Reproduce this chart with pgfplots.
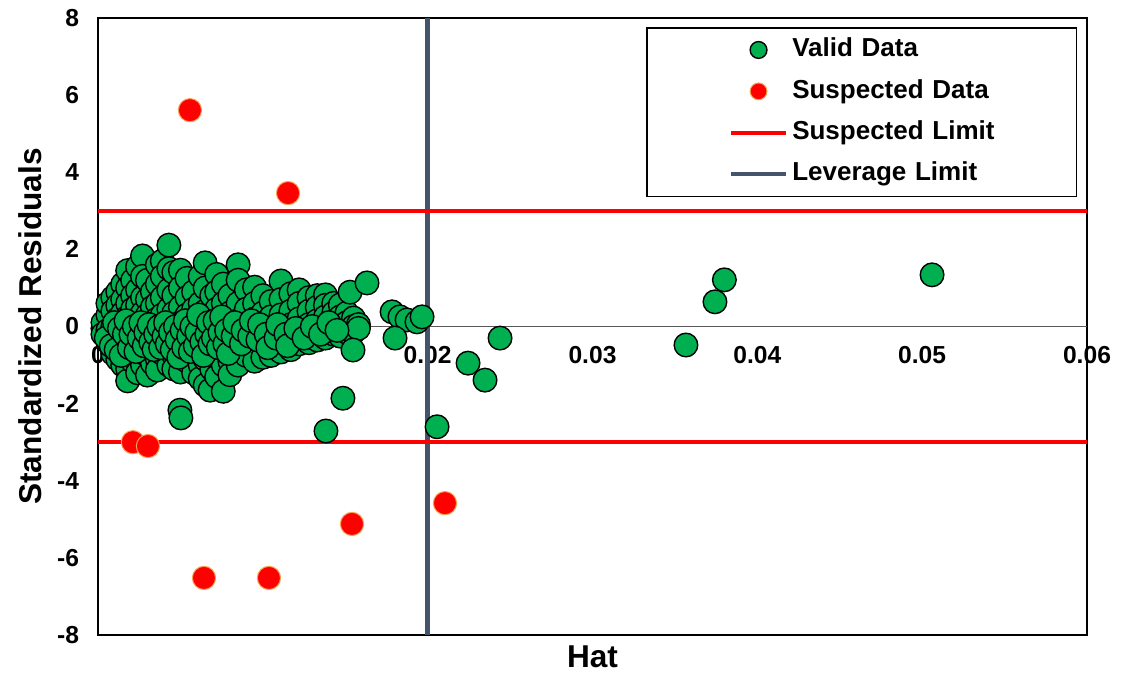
\documentclass[border=0pt]{standalone}
\usepackage{fontspec}
\setmainfont{Liberation Sans}
\usepackage{pgfplots}
\pgfplotsset{compat=1.18}
\usepackage{pgfplotstable}
\definecolor{vgreen}{HTML}{00B050}
\definecolor{sred}{HTML}{FF0000}
\definecolor{sborder}{HTML}{F8A050}
\definecolor{levcol}{HTML}{44546A}
\definecolor{zerocol}{HTML}{595959}

\pgfplotsset{
  legmark/.style={legend image code/.code={
    \path (-41pt,0pt) (27.5pt,0pt);
    \draw[##1, mark size=4.2pt] plot coordinates {(13.75pt,0pt)};}},
  legline/.style={legend image code/.code={
    \path (-41pt,0pt) (27.5pt,0pt);
    \draw[##1] (0pt,0pt) -- (27.5pt,0pt);}},
}

\pgfplotstableread{
x y
0.0003 -0.05
0.0003 0.10
0.0003 -0.20
0.0006 0.30
0.0006 -0.10
0.0006 -0.40
0.0006 0.60
0.0009 0.75
0.0009 0.40
0.0009 0.00
0.0009 -0.35
0.0009 -0.70
0.0009 -0.20
0.0012 0.90
0.0012 0.55
0.0012 0.20
0.0012 -0.15
0.0012 -0.50
0.0012 -0.85
0.0012 -0.30
0.0015 1.10
0.0015 0.70
0.0015 0.35
0.0015 0.00
0.0015 -0.30
0.0015 -0.60
0.0015 -1.00
0.0015 -0.45
0.0018 1.45
0.0018 1.00
0.0018 0.60
0.0018 0.25
0.0018 -0.10
0.0018 -0.40
0.0018 -0.75
0.0018 -1.10
0.0018 -1.41
0.0021 1.20
0.0021 0.80
0.0021 0.45
0.0021 0.10
0.0021 -0.25
0.0021 -0.55
0.0021 -0.90
0.0021 -0.35
0.0024 1.55
0.0024 0.95
0.0024 0.55
0.0024 0.20
0.0024 -0.15
0.0024 -0.45
0.0024 -0.80
0.0024 -1.20
0.0027 1.83
0.0027 1.30
0.0027 0.75
0.0027 0.35
0.0027 0.00
0.0027 -0.30
0.0027 -0.60
0.0027 -1.00
0.0027 -0.40
0.0030 1.20
0.0030 0.70
0.0030 0.30
0.0030 -0.10
0.0030 -0.45
0.0030 -0.75
0.0030 -1.26
0.0030 -0.25
0.0033 0.90
0.0033 0.50
0.0033 0.10
0.0033 -0.25
0.0033 -0.55
0.0033 -0.95
0.0033 -0.35
0.0036 1.60
0.0036 1.10
0.0036 0.60
0.0036 0.20
0.0036 -0.15
0.0036 -0.50
0.0036 -0.85
0.0036 -1.13
0.0039 1.70
0.0039 1.30
0.0039 0.75
0.0039 0.30
0.0039 -0.10
0.0039 -0.40
0.0039 -0.70
0.0039 -0.30
0.0043 2.11
0.0043 1.50
0.0043 0.95
0.0043 0.45
0.0043 0.05
0.0043 -0.30
0.0043 -0.60
0.0043 -1.00
0.0046 1.40
0.0046 0.80
0.0046 0.35
0.0046 -0.05
0.0046 -0.40
0.0046 -0.75
0.0046 -1.10
0.0046 -0.25
0.0050 1.46
0.0050 1.00
0.0050 0.50
0.0050 0.10
0.0050 -0.30
0.0050 -0.65
0.0050 -1.18
0.0050 -0.50
0.0054 1.25
0.0054 0.75
0.0054 0.30
0.0054 -0.10
0.0054 -0.45
0.0054 -0.90
0.0054 -0.30
0.0058 0.90
0.0058 0.45
0.0058 0.05
0.0058 -0.35
0.0058 -0.80
0.0058 -1.20
0.0062 1.30
0.0062 0.60
0.0062 0.20
0.0062 -0.20
0.0062 -0.60
0.0062 -1.00
0.0062 -1.35
0.0065 1.65
0.0065 1.00
0.0065 0.40
0.0065 -0.05
0.0065 -0.45
0.0065 -0.85
0.0065 -1.52
0.0069 0.80
0.0069 0.30
0.0069 -0.15
0.0069 -0.55
0.0069 -1.10
0.0068 -1.65
0.0072 1.35
0.0072 0.90
0.0072 0.45
0.0072 0.00
0.0072 -0.40
0.0072 -0.80
0.0072 -1.30
0.0076 1.10
0.0076 0.60
0.0076 0.10
0.0076 -0.30
0.0076 -0.70
0.0076 -1.00
0.0076 -1.68
0.0080 0.80
0.0080 0.35
0.0080 -0.10
0.0080 -0.50
0.0080 -0.90
0.0080 -1.25
0.0085 1.60
0.0085 1.20
0.0085 0.60
0.0085 0.15
0.0085 -0.30
0.0085 -0.65
0.0085 -1.00
0.0090 0.95
0.0090 0.45
0.0090 0.00
0.0090 -0.40
0.0090 -0.75
0.0095 1.02
0.0095 0.60
0.0095 0.20
0.0095 -0.20
0.0095 -0.55
0.0095 -0.90
0.0100 0.80
0.0100 0.35
0.0100 -0.05
0.0100 -0.40
0.0100 -0.80
0.0105 0.65
0.0105 0.25
0.0105 -0.15
0.0105 -0.50
0.0105 -0.75
0.0111 1.18
0.0111 0.70
0.0111 0.30
0.0111 -0.10
0.0111 -0.40
0.0111 -0.66
0.0117 0.85
0.0117 0.40
0.0117 0.05
0.0117 -0.30
0.0117 -0.60
0.0122 0.95
0.0122 0.60
0.0122 0.20
0.0122 -0.15
0.0122 -0.45
0.0128 0.75
0.0128 0.40
0.0128 0.05
0.0128 -0.25
0.0128 -0.42
0.0133 0.80
0.0133 0.50
0.0133 0.15
0.0133 -0.15
0.0133 -0.35
0.0138 0.82
0.0138 0.55
0.0138 0.25
0.0138 -0.05
0.0138 -0.30
0.0143 0.60
0.0143 0.35
0.0143 0.05
0.0143 -0.20
0.0147 0.56
0.0147 0.25
0.0147 0.00
0.0147 -0.25
0.0151 0.35
0.0151 0.10
0.0151 -0.15
0.0155 0.22
0.0155 0.00
0.0155 -0.15
0.0158 0.05
0.0158 -0.05
0.0005 -0.30
0.0008 -0.50
0.0010 0.10
0.0011 -0.60
0.0013 -0.05
0.0014 -0.75
0.0016 -0.20
0.0017 0.15
0.0019 -0.55
0.0020 -0.20
0.0022 0.00
0.0023 -0.65
0.0025 -0.30
0.0026 0.10
0.0028 -0.50
0.0029 -0.15
0.0031 0.05
0.0032 -0.40
0.0034 -0.60
0.0035 -0.20
0.0037 0.00
0.0038 -0.55
0.0040 -0.25
0.0041 0.10
0.0042 -0.45
0.0044 -0.15
0.0045 -0.60
0.0047 0.00
0.0048 -0.35
0.0049 -0.80
0.0051 -0.10
0.0052 -0.55
0.0053 0.15
0.0055 -0.25
0.0056 -0.65
0.0057 0.00
0.0059 -0.50
0.0060 -0.15
0.0061 0.30
0.0063 -0.40
0.0064 -0.75
0.0066 -0.20
0.0067 0.10
0.0068 -0.45
0.0070 -0.30
0.0071 0.15
0.0073 -0.55
0.0074 -0.15
0.0075 0.25
0.0077 -0.45
0.0078 -0.10
0.0079 -0.70
0.0082 -0.25
0.0083 0.10
0.0087 -0.45
0.0088 -0.10
0.0092 -0.25
0.0093 0.15
0.0097 -0.35
0.0098 0.05
0.0102 -0.20
0.0103 -0.55
0.0108 -0.30
0.0109 0.05
0.0114 -0.20
0.0115 -0.50
0.0120 -0.05
0.0125 -0.30
0.0130 0.00
0.0135 -0.20
0.0140 0.10
0.0145 -0.10
0.01529 0.89
0.01632 1.13
0.01547 -0.61
0.01486 -1.86
0.01383 -2.71
0.00497 -2.17
0.00503 -2.37
0.01784 0.38
0.01832 0.25
0.01875 0.17
0.01935 0.12
0.01802 -0.30
0.01966 0.25
0.02057 -2.60
0.02245 -0.95
0.02348 -1.39
0.02439 -0.30
0.03567 -0.48
0.03743 0.64
0.03800 1.21
0.05060 1.34
}\validdata

\pgfplotstableread{
x y
0.00558 5.61
0.01153 3.46
0.00212 -3.00
0.00303 -3.10
0.00643 -6.52
0.01037 -6.52
0.01541 -5.12
0.02105 -4.58
}\suspdata

\begin{document}
\begin{tikzpicture}
\useasboundingbox (-49pt,-20pt) rectangle (512.5pt,317.5pt);
\begin{axis}[
  scale only axis,
  width=494.5pt, height=308.5pt,
  at={(0pt,0pt)}, anchor=south west,
  xmin=0, xmax=0.06, ymin=-8, ymax=8,
  clip=false,
  axis line style={black, line width=1pt},
  xtick={0,0.01,0.02,0.03,0.04,0.05,0.06},
  xticklabels={0,0.01,0.02,0.03,0.04,0.05,0.06},
  ytick={-8,-6,-4,-2,0,2,4,6,8},
  yticklabels={-8,-6,-4,-2,0,2,4,6,8},
  scaled x ticks=false,
  major tick length=0pt,
  tick label style={font=\fontsize{12.3}{14}\selectfont\bfseries},
  xticklabel style={anchor=center, yshift=140pt},
  yticklabel style={anchor=east, xshift=-6pt},
  xlabel={Hat},
  ylabel={Standardized Residuals},
  label style={font=\fontsize{15.8}{18}\selectfont\bfseries},
  xlabel style={at={(axis description cs:0.5,-0.0357)}, anchor=center},
  ylabel style={at={(axis description cs:-0.069,0.5)}, anchor=center},
  legend cell align=left,
  legend style={
    at={(axis description cs:0.9899,0.9854)}, anchor=north east,
    draw=black, line width=0.75pt,
    font=\fontsize{13}{15}\selectfont\bfseries,
    inner xsep=0pt, inner ysep=3pt,
    row sep=4.5pt,
    nodes={text height=9.5pt, text depth=2.7pt, inner ysep=2pt},
    /tikz/every even column/.append style={text width=140pt, xshift=-1.5pt},
  },
]
% zero line and limits (behind the points)
\addplot[zerocol, line width=0.6pt, forget plot] coordinates {(0,0) (0.06,0)};
\addplot[levcol, line width=2.2pt, forget plot] coordinates {(0.02,-8) (0.02,8)};
\addplot[sred, line width=2pt, forget plot] coordinates {(0,3) (0.06,3)};
\addplot[sred, line width=2pt, forget plot] coordinates {(0,-3) (0.06,-3)};

\addplot[only marks, mark=*, mark size=5.9pt,
  mark options={fill=vgreen, draw=black, line width=0.7pt},
  legmark] table[x=x,y=y] {\validdata};
\addlegendentry{Valid Data}

\addplot[only marks, mark=*, mark size=5.8pt,
  mark options={fill=sred, draw=sborder, line width=0.5pt},
  legmark] table[x=x,y=y] {\suspdata};
\addlegendentry{Suspected Data}

\addlegendimage{sred, line width=2pt, legline}
\addlegendentry{Suspected Limit}

\addlegendimage{levcol, line width=2.2pt, legline}
\addlegendentry{Leverage Limit}
\end{axis}
\end{tikzpicture}
\end{document}
